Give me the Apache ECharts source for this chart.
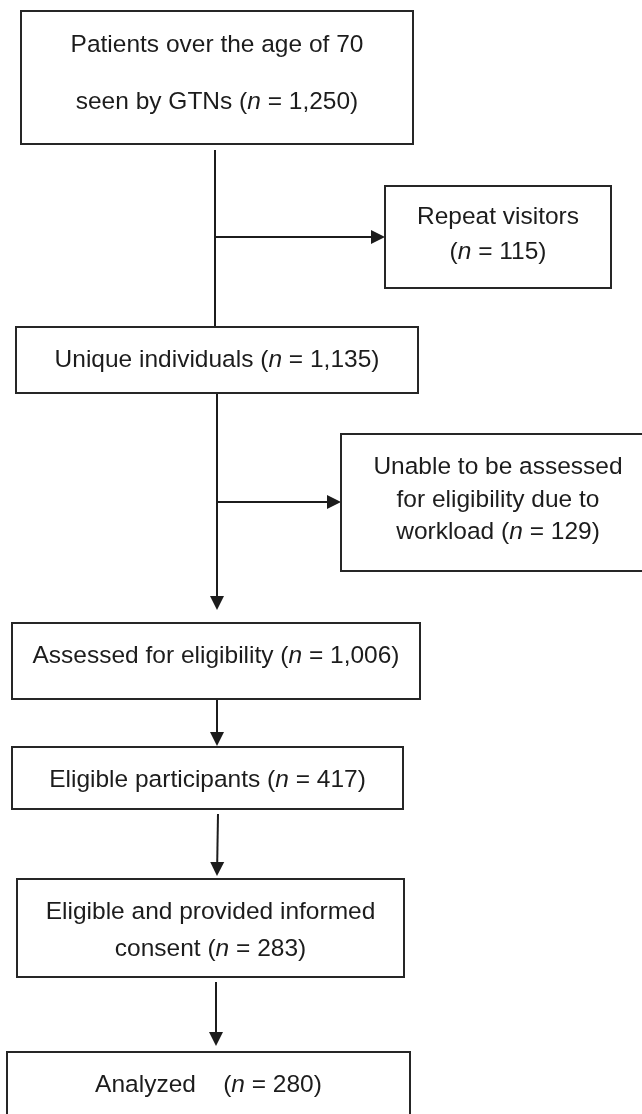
<!DOCTYPE html>
<html>
<head>
<meta charset="utf-8">
<script src="https://cdn.jsdelivr.net/npm/echarts@6/dist/echarts.min.js"></script>
<style>
html,body{margin:0;padding:0;background:#ffffff;}
#chart{width:642px;height:1114px;}
</style>
</head>
<body>
<div id="chart"></div>
<script>
// ---- data ----
const stepTexts = [
  'Patients over the age of 70\nseen by GTNs',
  'Repeat visitors\n',
  'Unique individuals',
  'Unable to be assessed\nfor eligibility due to\nworkload',
  'Assessed for eligibility',
  'Eligible participants',
  'Eligible and provided informed\nconsent',
  'Analyzed   '
];
const stepCounts = [1250, 115, 1135, 129, 1006, 417, 283, 280];
// flow links: [from step, to step]
const flowLinks = [[0, 2], [0, 1], [2, 4], [2, 3], [4, 5], [5, 6], [6, 7]];

// ---- layout (canvas units, y downward) ----
const boxLayout = [
  {x0: 21,  y0: 11,   x1: 413, y1: 144,  ty: 74,   lh: 57},
  {x0: 385, y0: 186,  x1: 611, y1: 288,  ty: 235,  lh: 35},
  {x0: 16,  y0: 327,  x1: 418, y1: 393,  ty: 360,  lh: 30},
  {x0: 341, y0: 434,  x1: 660, y1: 571,  ty: 500,  lh: 32.5},
  {x0: 12,  y0: 623,  x1: 420, y1: 699,  ty: 656,  lh: 30},
  {x0: 12,  y0: 747,  x1: 403, y1: 809,  ty: 780,  lh: 30},
  {x0: 17,  y0: 879,  x1: 404, y1: 977,  ty: 930.5, lh: 37},
  {x0: 7,   y0: 1052, x1: 410, y1: 1140, ty: 1085, lh: 30}
];
// arrows: start point, end point, arrow head flag
const arrowLayout = [
  {x0: 215, y0: 150, x1: 215, y1: 327, head: false},
  {x0: 215, y0: 237, x1: 385, y1: 237, head: true},
  {x0: 217, y0: 393, x1: 217, y1: 610, head: true},
  {x0: 217, y0: 502, x1: 341, y1: 502, head: true},
  {x0: 217, y0: 699, x1: 217, y1: 746, head: true},
  {x0: 218, y0: 814, x1: 217, y1: 876, head: true},
  {x0: 216, y0: 982, x1: 216, y1: 1046, head: true}
];

const FONT = '"Liberation Sans", Arial, Helvetica, sans-serif';
const FS = 24.5;
const INK = '#1c1c1c';

function fmt(v) { return v.toLocaleString('en-US'); }
function labelOf(i) {
  const t = stepTexts[i];
  const sep = t.endsWith('\n') ? '' : ' ';
  return t + sep + '({i|n} = ' + fmt(stepCounts[i]) + ')';
}

const chart = echarts.init(document.getElementById('chart'), null, {renderer: 'canvas'});

chart.setOption({
  animation: false,
  backgroundColor: '#ffffff',
  grid: {left: 0, right: 0, top: 0, bottom: 0},
  xAxis: {type: 'value', min: 0, max: 642, show: false},
  yAxis: {type: 'value', min: 0, max: 1114, inverse: true, show: false},
  series: [
    {
      type: 'custom',
      coordinateSystem: 'cartesian2d',
      clip: false,
      data: flowLinks.map((l, i) => [i, stepCounts[l[1]]]),
      renderItem: function (params, api) {
        const a = arrowLayout[params.dataIndex];
        const p0 = api.coord([a.x0, a.y0]);
        const p1 = api.coord([a.x1, a.y1]);
        const dx = p1[0] - p0[0], dy = p1[1] - p0[1];
        const len = Math.sqrt(dx * dx + dy * dy);
        const ux = dx / len, uy = dy / len;
        const hl = 14, hw = 7;
        const children = [];
        const endX = a.head ? p1[0] - ux * (hl - 1) : p1[0];
        const endY = a.head ? p1[1] - uy * (hl - 1) : p1[1];
        children.push({
          type: 'line',
          shape: {x1: p0[0], y1: p0[1], x2: endX, y2: endY},
          style: {stroke: INK, lineWidth: 2}
        });
        if (a.head) {
          const bx = p1[0] - ux * hl, by = p1[1] - uy * hl;
          children.push({
            type: 'polygon',
            shape: {points: [
              [p1[0], p1[1]],
              [bx - uy * hw, by + ux * hw],
              [bx + uy * hw, by - ux * hw]
            ]},
            style: {fill: INK}
          });
        }
        return {type: 'group', children: children};
      }
    },
    {
      type: 'custom',
      coordinateSystem: 'cartesian2d',
      clip: false,
      data: stepCounts.map((v, i) => [i, v]),
      renderItem: function (params, api) {
        const i = params.dataIndex;
        const L = boxLayout[i];
        const p0 = api.coord([L.x0, L.y0]);
        const p1 = api.coord([L.x1, L.y1]);
        const cx = (api.coord([(L.x0 + Math.min(L.x1, 655)) / 2, 0]))[0];
        const cy = api.coord([0, L.ty])[1];
        return {
          type: 'group',
          children: [
            {
              type: 'rect',
              shape: {x: p0[0], y: p0[1], width: p1[0] - p0[0], height: p1[1] - p0[1]},
              style: {fill: '#ffffff', stroke: '#262626', lineWidth: 2}
            },
            {
              type: 'text',
              style: {
                x: cx,
                y: cy,
                text: labelOf(i),
                align: 'center',
                verticalAlign: 'middle',
                fill: INK,
                fontFamily: FONT,
                fontSize: FS,
                lineHeight: L.lh,
                rich: {
                  i: {fontStyle: 'italic', fontFamily: FONT, fontSize: FS, lineHeight: L.lh, fill: INK}
                }
              }
            }
          ]
        };
      }
    }
  ]
});
</script>
</body>
</html>
